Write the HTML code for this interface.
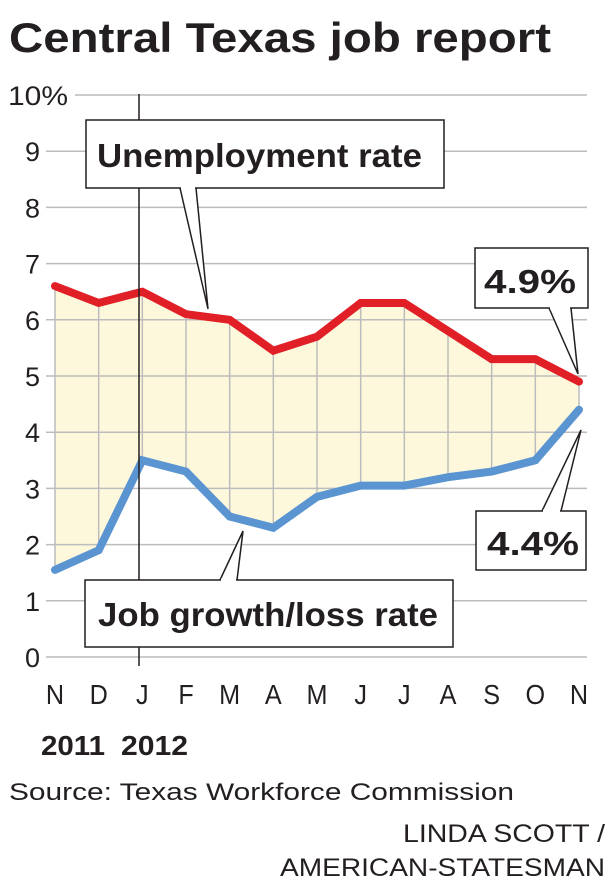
<!DOCTYPE html>
<html><head><meta charset="utf-8"><style>
html,body{margin:0;padding:0;background:#fff;}
svg{display:block;font-family:"Liberation Sans",sans-serif;}
</style></head><body>
<svg id="chart" width="615" height="889" viewBox="0 0 615 889" xmlns="http://www.w3.org/2000/svg">
<text x="9" y="52" font-size="42" font-weight="bold" textLength="542" lengthAdjust="spacingAndGlyphs" fill="#231f20">Central Texas job report</text>
<g id="fill"></g><g id="grid"></g><g id="lines"></g><g id="labels"></g>
<line x1="139" y1="94" x2="139" y2="666" stroke="#231f20" stroke-width="1.5"/>
<g>
<path d="M180 188 L208 309 L196 188" fill="#fff" stroke="#231f20" stroke-width="1.5"/>
<rect x="86" y="120" width="358" height="68" fill="#fff" stroke="#231f20" stroke-width="1.5"/>
<line x1="181" y1="188" x2="195" y2="188" stroke="#fff" stroke-width="3"/>
<text x="97" y="167" font-size="33" font-weight="bold" textLength="325" lengthAdjust="spacingAndGlyphs" fill="#231f20">Unemployment rate</text>
</g>
<g>
<path d="M549 308 L578 374 L571 308" fill="#fff" stroke="#231f20" stroke-width="1.5"/>
<rect x="475" y="248" width="113" height="60" fill="#fff" stroke="#231f20" stroke-width="1.5"/>
<line x1="550" y1="308" x2="570" y2="308" stroke="#fff" stroke-width="3"/>
<text x="484" y="293" font-size="33" font-weight="bold" textLength="92" lengthAdjust="spacingAndGlyphs" fill="#231f20">4.9%</text>
</g>
<g>
<path d="M542 511 L581 430 L561 511" fill="#fff" stroke="#231f20" stroke-width="1.5"/>
<rect x="476" y="511" width="110" height="59" fill="#fff" stroke="#231f20" stroke-width="1.5"/>
<line x1="543" y1="511" x2="560" y2="511" stroke="#fff" stroke-width="3"/>
<text x="487" y="555" font-size="33" font-weight="bold" textLength="92" lengthAdjust="spacingAndGlyphs" fill="#231f20">4.4%</text>
</g>
<g>
<path d="M220 580 L243 531 L237 580" fill="#fff" stroke="#231f20" stroke-width="1.5"/>
<rect x="85" y="580" width="368" height="67" fill="#fff" stroke="#231f20" stroke-width="1.5"/>
<line x1="221" y1="580" x2="236" y2="580" stroke="#fff" stroke-width="3"/>
<text x="98" y="626" font-size="33" font-weight="bold" textLength="340" lengthAdjust="spacingAndGlyphs" fill="#231f20">Job growth/loss rate</text>
</g>
<text x="41" y="755" font-size="28" font-weight="bold" textLength="64" lengthAdjust="spacingAndGlyphs" fill="#231f20">2011</text>
<text x="121" y="755" font-size="28" font-weight="bold" textLength="67" lengthAdjust="spacingAndGlyphs" fill="#231f20">2012</text>
<text x="9" y="800" font-size="24" textLength="505" lengthAdjust="spacingAndGlyphs" fill="#231f20">Source: Texas Workforce Commission</text>
<text x="605" y="842" font-size="25" text-anchor="end" textLength="202" lengthAdjust="spacingAndGlyphs" fill="#231f20">LINDA SCOTT /</text>
<text x="605" y="876" font-size="25" text-anchor="end" textLength="325" lengthAdjust="spacingAndGlyphs" fill="#231f20">AMERICAN-STATESMAN</text>
</svg>
<script>
const months = ["N","D","J","F","M","A","M","J","J","A","S","O","N"];
const unemployment = [6.6,6.3,6.5,6.1,6.0,5.45,5.7,6.3,6.3,5.8,5.3,5.3,4.9];
const jobGrowth = [1.55,1.9,3.5,3.3,2.5,2.3,2.85,3.05,3.05,3.2,3.3,3.5,4.4];
const yTicks = [0,1,2,3,4,5,6,7,8,9,10];
const yTickLabels = ["0","1","2","3","4","5","6","7","8","9","10%"];

const NS="http://www.w3.org/2000/svg";
const X0=55, X1=579, Y0=657, Y10=95;
function xs(i){return X0+(X1-X0)*i/(months.length-1);}
function ys(v){return Y0-(Y0-Y10)*v/10;}
function mk(tag,attrs,parent){const e=document.createElementNS(NS,tag);for(const k in attrs)e.setAttribute(k,attrs[k]);parent.appendChild(e);return e;}
const gFill=document.getElementById('fill'),gGrid=document.getElementById('grid'),gLines=document.getElementById('lines'),gLab=document.getElementById('labels');

let d="M"+unemployment.map((v,i)=>xs(i)+" "+ys(v)).join(" L");
for(let i=jobGrowth.length-1;i>=0;i--) d+=" L"+xs(i)+" "+ys(jobGrowth[i]);
const area=mk('path',{d:d+" Z",fill:"#fdf8dc"},gFill);



yTicks.forEach((t,k)=>{
  const ln=mk('line',{x1:t===10?75:46,x2:587,y1:ys(t),y2:ys(t),stroke:"#bcbcbc","stroke-width":1.5},gGrid);
  
  
  const tx=mk('text',{x:t===10?68:40,y:ys(t)+10,"font-size":27,"text-anchor":"end",fill:"#231f20"},gLab);
  if(t===10){tx.setAttribute('textLength','60');tx.setAttribute('lengthAdjust','spacingAndGlyphs');}
  
  
  tx.textContent=yTickLabels[k];
});
months.forEach((m,i)=>{
  const vl=mk('line',{x1:xs(i),x2:xs(i),y1:ys(unemployment[i]),y2:ys(jobGrowth[i]),stroke:"#bcbcbc","stroke-width":1.5},gGrid);
  
  
  const tx=mk('text',{x:0,y:0,"font-size":28,"text-anchor":"middle",fill:"#231f20",transform:"translate("+xs(i)+",704) scale(0.9,1)"},gLab);
  
  
  tx.textContent=m;
});
const red=mk('polyline',{points:unemployment.map((v,i)=>xs(i)+","+ys(v)).join(" "),fill:"none",stroke:"#e11f26","stroke-width":8,"stroke-linejoin":"miter","stroke-linecap":"round"},gLines);


const blue=mk('polyline',{points:jobGrowth.map((v,i)=>xs(i)+","+ys(v)).join(" "),fill:"none",stroke:"#5b95d1","stroke-width":8,"stroke-linejoin":"miter","stroke-linecap":"round"},gLines);


</script>
</body></html>
